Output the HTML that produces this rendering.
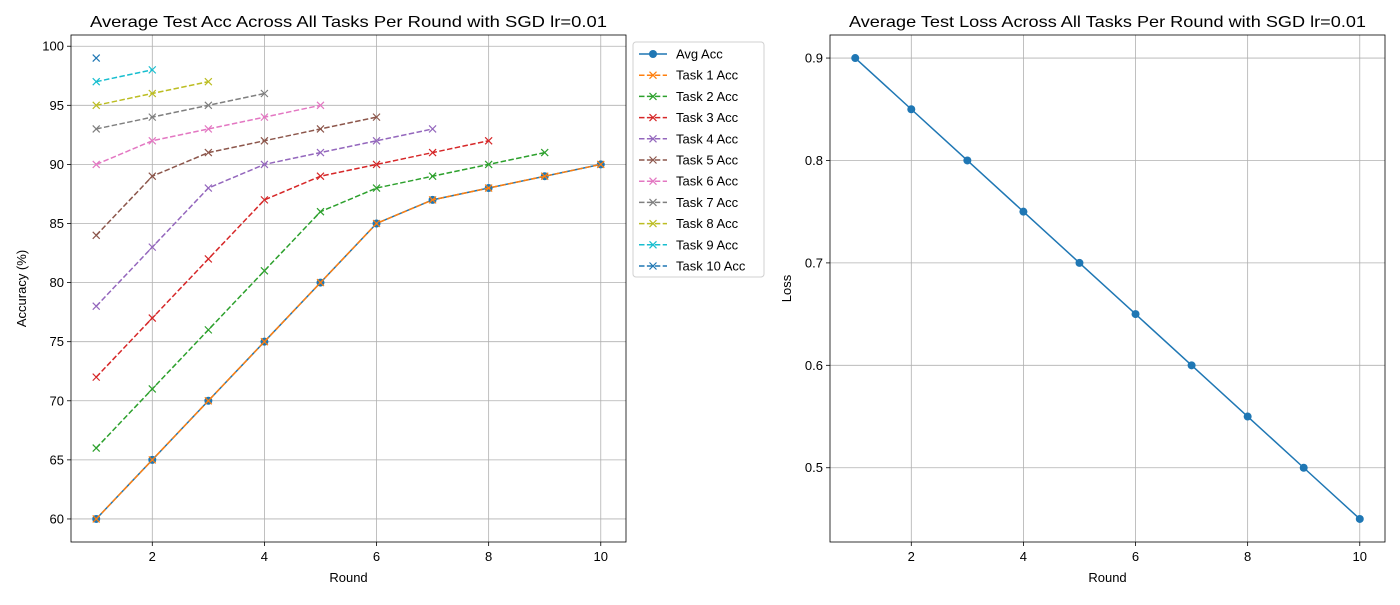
<!DOCTYPE html>
<html><head><meta charset="utf-8"><style>
body{margin:0;background:#fff}
svg text{font-family:"Liberation Sans","DejaVu Sans",sans-serif;fill:#000}
</style></head><body>
<svg id="chart" width="1400" height="600" xmlns="http://www.w3.org/2000/svg"></svg>
<script>
const rounds=[1,2,3,4,5,6,7,8,9,10];
const avgAcc=[60,65,70,75,80,85,87,88,89,90];
const task1=[60,65,70,75,80,85,87,88,89,90];
const task2=[66,71,76,81,86,88,89,90,91];
const task3=[72,77,82,87,89,90,91,92];
const task4=[78,83,88,90,91,92,93];
const task5=[84,89,91,92,93,94];
const task6=[90,92,93,94,95];
const task7=[93,94,95,96];
const task8=[95,96,97];
const task9=[97,98];
const task10=[99];
const lossVals=[0.9,0.85,0.8,0.75,0.7,0.65,0.6,0.55,0.5,0.45];
const xTicks=[2,4,6,8,10];
const accTicks=[60,65,70,75,80,85,90,95,100];
const lossTicks=[0.5,0.6,0.7,0.8,0.9];

const NS="http://www.w3.org/2000/svg";
const svg=document.getElementById('chart');
function mk(tag,attrs,parent){const e=document.createElementNS(NS,tag);for(const k in attrs)e.setAttribute(k,attrs[k]);(parent||svg).appendChild(e);return e;}
const colors=['#1f77b4','#ff7f0e','#2ca02c','#d62728','#9467bd','#8c564b','#e377c2','#7f7f7f','#bcbd22','#17becf','#1f77b4'];

function panel(L,R,T,B,xmin,xmax,ymin,ymax,yTicks,yFmt,title,ylabel,name,ylOff){
  const sx=v=>L+(v-xmin)/(xmax-xmin)*(R-L);
  const sy=v=>B-(v-ymin)/(ymax-ymin)*(B-T);
  const g=mk('g',{});
  
  
  xTicks.forEach(t=>{const x=sx(t);
    mk('line',{x1:x,x2:x,y1:T,y2:B,stroke:'#b0b0b0','stroke-width':0.8},g);
    mk('line',{x1:x,x2:x,y1:B,y2:B+4,stroke:'#000','stroke-width':0.8},g);
    const tx=mk('text',{x:x,y:B+19,'text-anchor':'middle','font-size':13},g);tx.textContent=t;
    
    });
  yTicks.forEach(t=>{const y=sy(t);
    mk('line',{x1:L,x2:R,y1:y,y2:y,stroke:'#b0b0b0','stroke-width':0.8},g);
    mk('line',{x1:L-4,x2:L,y1:y,y2:y,stroke:'#000','stroke-width':0.8},g);
    const tx=mk('text',{x:L-7,y:y+4.5,'text-anchor':'end','font-size':13},g);tx.textContent=yFmt(t);
    
    });
  mk('rect',{x:L,y:T,width:R-L,height:B-T,fill:'none',stroke:'#000','stroke-width':0.8},g);
  const tt=mk('text',{x:(L+R)/2,y:T-8,'text-anchor':'middle','font-size':16,'textLength':517,'lengthAdjust':'spacingAndGlyphs'},g);tt.textContent=title;
  
  
  const xl=mk('text',{x:(L+R)/2,y:B+40,'text-anchor':'middle','font-size':13},g);xl.textContent='Round';
  
  
  const cy=(T+B)/2;const yl=mk('text',{x:0,y:0,'text-anchor':'middle','font-size':13,transform:`translate(${L-ylOff},${cy}) rotate(-90)`},g);yl.textContent=ylabel;
  
  
  return {sx,sy,g};
}
function series(p,vals,color,dashed,marker,name){
  const pts=vals.map((v,i)=>[p.sx(rounds[i]),p.sy(v)]);
  const pl=mk('polyline',{points:pts.map(q=>q.join(',')).join(' '),fill:'none',stroke:color,'stroke-width':1.5,'stroke-dasharray':dashed?'5.5,2.4':'none'},p.g);
  
  
  pts.forEach(([x,y])=>{let m;
    if(marker==='o'){m=mk('circle',{cx:x,cy:y,r:4,fill:color},p.g);}
    else{m=mk('path',{d:`M${x-3.5},${y-3.5}L${x+3.5},${y+3.5}M${x-3.5},${y+3.5}L${x+3.5},${y-3.5}`,stroke:color,'stroke-width':1.2},p.g);}
    
    });
}
const p1=panel(71,626,35,542,0.55,10.45,58.05,100.95,accTicks,t=>t,'Average Test Acc Across All Tasks Per Round with SGD lr=0.01','Accuracy (%)','accuracy-panel',45);
const tasks=[task1,task2,task3,task4,task5,task6,task7,task8,task9,task10];
series(p1,avgAcc,colors[0],false,'o','avg-acc');
tasks.forEach((t,i)=>series(p1,t,colors[i+1],true,'x','task-'+(i+1)+'-acc'));
const p2=panel(830,1385,35,542,0.55,10.45,0.4275,0.9225,lossTicks,t=>t.toFixed(1),'Average Test Loss Across All Tasks Per Round with SGD lr=0.01','Loss','loss-panel',39);
series(p2,lossVals,colors[0],false,'o','avg-loss');

// legend
const lg=mk('g',{});


mk('rect',{x:633,y:42,width:131,height:235,rx:3,fill:'#fff',stroke:'#d0d0d0','stroke-width':1},lg);
const labels=['Avg Acc'].concat(tasks.map((_,i)=>'Task '+(i+1)+' Acc'));
labels.forEach((lab,i)=>{const y=54+i*21.2;const c=colors[i];
  const e=mk('g',{},lg);
  
  
  mk('line',{x1:639,x2:667,y1:y,y2:y,stroke:c,'stroke-width':1.5,'stroke-dasharray':i?'5.5,2.4':'none'},e);
  if(i===0)mk('circle',{cx:653,cy:y,r:4,fill:c},e);
  else mk('path',{d:`M649.5,${y-3.5}L656.5,${y+3.5}M649.5,${y+3.5}L656.5,${y-3.5}`,stroke:c,'stroke-width':1.2},e);
  const t=mk('text',{x:676,y:y+4.5,'font-size':13},e);t.textContent=lab;});
</script>
</body></html>
